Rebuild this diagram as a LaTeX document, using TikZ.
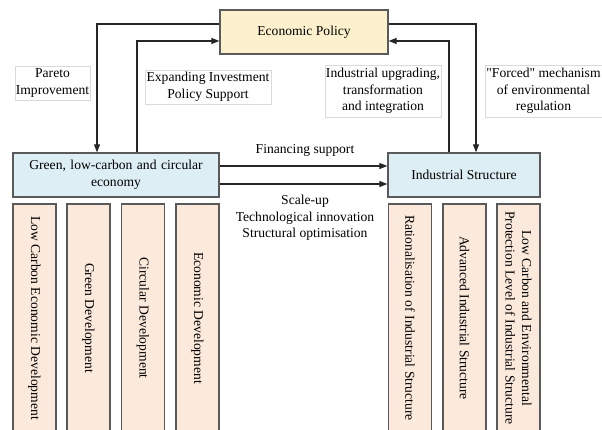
\documentclass[tikz,border=0pt]{standalone}
\usepackage{fontspec}
\setmainfont{Liberation Serif}
\usetikzlibrary{arrows.meta}

\definecolor{policyfill}{HTML}{FDF0CD}
\definecolor{mainfill}{HTML}{DDEEF5}
\definecolor{subfill}{HTML}{FBE9DC}
\definecolor{boxline}{HTML}{5A5A5A}
\definecolor{tagline}{HTML}{DADADA}

\tikzset{
  txt/.style={font=\fontsize{13.6}{16.5}\selectfont, align=center},
  mainbox/.style={txt, draw=boxline, line width=1.3pt, inner sep=2pt},
  subbox/.style={txt, draw=boxline, line width=1.3pt, fill=subfill, rotate=-90,
    minimum width=228pt, minimum height=43pt, inner sep=1pt},
  tagbox/.style={txt, draw=tagline, line width=0.5pt, fill=white, inner sep=1pt},
  arr/.style={draw=black!85, line width=1.1pt, -{Triangle[length=8pt,width=6pt]}},
}

\begin{document}
\begin{tikzpicture}[x=1pt, y=-1pt]
\useasboundingbox (0,0) rectangle (602,430);

% main boxes
\node[mainbox, fill=policyfill, minimum width=168pt, minimum height=44pt] (econ) at (304,32) {Economic Policy};
\node[mainbox, fill=mainfill, minimum width=206pt, minimum height=44pt, text width=196pt] (green) at (116,175) {Green, low-carbon and circular\\economy};
\node[mainbox, fill=mainfill, minimum width=152pt, minimum height=44pt] (ind) at (464,175) {Industrial Structure};

% feedback loops with the policy box
\draw[arr] (econ.west |- 0,24) -| ([xshift=-19pt]green.north);
\draw[arr] ([xshift=21pt]green.north) |- (econ.west |- 0,41);
\draw[arr] ([xshift=-15pt]ind.north) |- (econ.east |- 0,41);
\draw[arr] (econ.east |- 0,24) -| ([xshift=12pt]ind.north);

% direct links between the two structures
\draw[arr] (green.east |- 0,166) -- (ind.west |- 0,166);
\draw[arr] (green.east |- 0,184) -- (ind.west |- 0,184);

% labels on the loops
\node[tagbox, minimum width=73pt, minimum height=34pt] (pareto) at (52.5,83) {Pareto\\Improvement};
\node[tagbox, minimum width=126pt, minimum height=34pt] (invest) at (208,87) {Expanding Investment\\Policy Support};
\node[tagbox, minimum width=116pt, minimum height=52pt] (upgrade) at (383,91) {Industrial upgrading,\\transformation\\and integration};
\node[tagbox, minimum width=117pt, minimum height=52pt] (forced) at (543.5,91) {\textquotedbl Forced\textquotedbl{} mechanism\\of environmental\\regulation};

% labels on the direct links
\node[txt] (finance) at (305,150) {Financing support};
\node[txt] (scale) at (305,218) {Scale-up\\Technological innovation\\Structural optimisation};

% dimensions of each structure
\node[subbox] (lced) at (34.5,318) {Low Carbon Economic Development};
\node[subbox] (gd) at (88.5,318) {Green Development};
\node[subbox] (cd) at (143,318) {Circular Development};
\node[subbox] (ed) at (197.5,318) {Economic Development};
\node[subbox] (ris) at (410,318) {Rationalisation of Industrial Structure};
\node[subbox] (ais) at (464.5,318) {Advanced Industrial Structure};
\node[subbox] (lcep) at (518.5,318) {Low Carbon and Environmental\\Protection Level of Industrial Structure};
\end{tikzpicture}
\end{document}
